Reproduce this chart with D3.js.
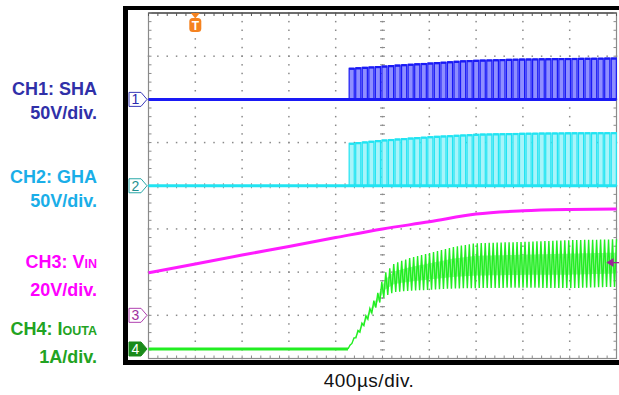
<!DOCTYPE html>
<html><head><meta charset="utf-8">
<script src="https://cdn.jsdelivr.net/npm/d3@7"></script>
<style>html,body{margin:0;padding:0;background:#fff;} svg{display:block;font-family:"Liberation Sans",Arial,sans-serif;}</style>
</head><body><svg id="c" width="619" height="395"></svg>
<script>
// ---------------- DATA ----------------
// time axis in µs (trigger at t = 0), 400 µs/div, 10 x 8 divisions
const timeDomain = [-400, 3600];
const timePerDiv = 400;
const divisionsX = 10;
const divisionsY = 8;
const timebaseLabel = "400µs/div.";

const channelNames = ["CH1: SHA", "CH2: GHA", "CH3: V", "CH4: I"];
const channelSubs = ["", "", "IN", "OUTA"];
const channelScaleLabels = ["50V/div.", "50V/div.", "20V/div.", "1A/div."];
const channelUnitsPerDiv = [50, 50, 20, 1];
const channelOffsetsDiv = [6, 4, 1, 0.22];
const channelIds = ["1", "2", "3", "4"];

const switchStart = 1315;   // µs, start of switching
const switchPeriod = 56;    // µs (apparent, aliased)
const switchDuty = 0.78;
const ripplePeriod = 34;    // µs (apparent current ripple)

// CH1 SHA: high level envelope (V)
const shaTime = [1315, 1600, 1750, 2050, 2300, 2700, 3100, 3600];
const shaHigh = [36, 38.5, 40, 42.5, 44.8, 46.4, 47.2, 47.8];
// CH2 GHA: high level envelope (V)
const ghaTime = [1315, 1600, 2000, 2400, 2800, 3200, 3600];
const ghaHigh = [49.1, 53.0, 56.8, 59.6, 60.7, 61.2, 61.4];
// CH3 VIN (V)
const vinTime = [-400, 0, 400, 800, 1200, 1600, 2000, 2400, 2800, 3200, 3600];
const vinVolts = [19.7, 23.8, 27.9, 31.9, 36.0, 40.0, 43.3, 46.9, 48.4, 49.0, 49.2];
// CH4 IOUTA (A): ripple band
const ioutTime = [-400, 1305, 1400, 1500, 1560, 1620, 1700, 1850, 2000, 2200, 2400, 2800, 3200, 3600];
const ioutLow  = [0, 0, 0.36, 0.80, 1.02, 1.22, 1.32, 1.35, 1.37, 1.40, 1.41, 1.42, 1.41, 1.44];
const ioutHigh = [0, 0, 0.48, 0.98, 1.30, 1.75, 1.98, 2.12, 2.22, 2.36, 2.45, 2.48, 2.52, 2.54];
const triggerLevelA = 2.0;

// ---------------- DRAWING ----------------
const svg = d3.select("#c");
const plot = {l: 148.5, r: 616.5, t: 13, b: 358.5};
const x = d3.scaleLinear().domain(timeDomain).range([plot.l, plot.r]);
const y = d3.scaleLinear().domain([0, divisionsY]).range([plot.b, plot.t]);
const yv = (ch, v) => y(channelOffsetsDiv[ch] + v / channelUnitsPerDiv[ch]);

// black scope frame
svg.append("rect").attr("x", 123).attr("y", 6).attr("width", 5).attr("height", 359).attr("fill", "#000");
svg.append("rect").attr("x", 123).attr("y", 6).attr("width", 496).attr("height", 4).attr("fill", "#000");
svg.append("rect").attr("x", 123).attr("y", 360).attr("width", 496).attr("height", 5).attr("fill", "#000");

// graticule
const grid = svg.append("g");
const gridColor = "#8a8a8a";
const majorT = d3.range(timeDomain[0], timeDomain[1] + 1, timePerDiv);
const minorT = d3.range(timeDomain[0], timeDomain[1] + 1, timePerDiv / 5);
const majorD = d3.range(0, divisionsY + 0.001, 1);
const minorD = d3.range(0, divisionsY + 0.001, 0.2);
majorT.slice(1, -1).forEach(t => {
  grid.selectAll(null).data(minorD).join("rect")
    .attr("x", x(t) - 0.75).attr("y", d => y(d) - 0.75).attr("width", 1.5).attr("height", 1.5).attr("fill", gridColor);
});
majorD.slice(1, -1).forEach(d => {
  grid.selectAll(null).data(minorT).join("rect")
    .attr("x", t => x(t) - 0.75).attr("y", y(d) - 0.75).attr("width", 1.5).attr("height", 1.5).attr("fill", gridColor);
});
const cT = (timeDomain[0] + timeDomain[1]) / 2, cD = divisionsY / 2;
grid.selectAll(null).data(minorD).join("line")
  .attr("x1", x(cT) - 2.5).attr("x2", x(cT) + 2.5).attr("y1", d => y(d)).attr("y2", d => y(d))
  .attr("stroke", gridColor).attr("stroke-width", 1);
grid.selectAll(null).data(minorT).join("line")
  .attr("y1", y(cD) - 2.5).attr("y2", y(cD) + 2.5).attr("x1", t => x(t)).attr("x2", t => x(t))
  .attr("stroke", gridColor).attr("stroke-width", 1);
grid.append("rect").attr("x", plot.l).attr("y", plot.t).attr("width", plot.r - plot.l).attr("height", plot.b - plot.t)
  .attr("fill", "none").attr("stroke", gridColor).attr("stroke-width", 1.2);
grid.append("line").attr("x1", plot.l).attr("x2", plot.r).attr("y1", plot.t).attr("y2", plot.t)
  .attr("stroke", "#555").attr("stroke-width", 1.5);
grid.selectAll(null).data(minorT).join("line")
  .attr("x1", t => x(t)).attr("x2", t => x(t)).attr("y1", plot.t).attr("y2", plot.t + 3)
  .attr("stroke", "#555").attr("stroke-width", 1);
grid.selectAll(null).data(minorT).join("line")
  .attr("x1", t => x(t)).attr("x2", t => x(t)).attr("y1", plot.b).attr("y2", plot.b - 3)
  .attr("stroke", gridColor).attr("stroke-width", 1);
grid.selectAll(null).data(minorD).join("line")
  .attr("x1", plot.l).attr("x2", plot.l + 3).attr("y1", d => y(d)).attr("y2", d => y(d))
  .attr("stroke", gridColor).attr("stroke-width", 1);
grid.selectAll(null).data(minorD).join("line")
  .attr("x1", plot.r).attr("x2", plot.r - 3).attr("y1", d => y(d)).attr("y2", d => y(d))
  .attr("stroke", gridColor).attr("stroke-width", 1);

const traces = svg.append("g");
const line = d3.line().x(d => x(d[0])).y(d => d[1]);

// switching nodes (CH1 and CH2)
function drawSwitching(times, highs, ch, lineColor, fillColor) {
  const env = d3.scaleLinear().domain(times).range(highs).clamp(true);
  const base = yv(ch, 0);
  const end = timeDomain[1];
  const starts = d3.range(switchStart, end - 2, switchPeriod);
  const fall = t => Math.min(t + switchDuty * switchPeriod, end);
  const g = traces.append("g");
  g.selectAll(null).data(starts).join("rect")
    .attr("x", t => x(t))
    .attr("width", t => x(fall(t)) - x(t))
    .attr("y", t => yv(ch, env(t)))
    .attr("height", t => base - yv(ch, env(t)))
    .attr("fill", fillColor);
  const pts = [[timeDomain[0], base]];
  starts.forEach(t => {
    const h = yv(ch, env(t));
    pts.push([t, base], [t, h], [fall(t), h], [fall(t), base]);
  });
  pts.push([end, base]);
  g.append("path").attr("d", line(pts)).attr("fill", "none").attr("stroke", lineColor).attr("stroke-width", 1.2);
  g.append("line").attr("x1", x(timeDomain[0])).attr("x2", x(end)).attr("y1", base).attr("y2", base)
    .attr("stroke", lineColor).attr("stroke-width", 3);
  g.selectAll(null).data(starts).join("line")
    .attr("x1", t => x(t)).attr("x2", t => x(fall(t)))
    .attr("y1", t => yv(ch, env(t)) + 0.5).attr("y2", t => yv(ch, env(t)) + 0.5)
    .attr("stroke", lineColor).attr("stroke-width", 2.2);
}
drawSwitching(shaTime, shaHigh, 0, "#1a1af5", "#8e8eff");
drawSwitching(ghaTime, ghaHigh, 1, "#22e4f2", "#a8f4fa");

// CH3 VIN
traces.append("path")
  .attr("d", d3.line().x((d, i) => x(vinTime[i])).y(d => yv(2, d)).curve(d3.curveMonotoneX)(vinVolts))
  .attr("fill", "none").attr("stroke", "#ff1cff").attr("stroke-width", 3);

// CH4 IOUTA
(function () {
  const lo = d3.scaleLinear().domain(ioutTime).range(ioutLow).clamp(true);
  const hi = d3.scaleLinear().domain(ioutTime).range(ioutHigh).clamp(true);
  const tStart = ioutTime[1];
  const g = traces.append("g");
  g.append("line").attr("x1", x(timeDomain[0])).attr("x2", x(tStart)).attr("y1", yv(3, 0)).attr("y2", yv(3, 0))
    .attr("stroke", "#22ee22").attr("stroke-width", 3);
  const bandT = d3.range(tStart, timeDomain[1] + 1, 10);
  g.append("path")
    .attr("d", d3.area().x(t => x(t))
      .y0(t => yv(3, lo(t) + 0.28 * (hi(t) - lo(t))))
      .y1(t => yv(3, hi(t) - 0.28 * (hi(t) - lo(t))))(bandT))
    .attr("fill", "#9cf49c");
  const pts = [];
  d3.range(tStart, timeDomain[1], ripplePeriod).forEach(t => {
    pts.push([t, yv(3, lo(t))]);
    const t2 = Math.min(t + ripplePeriod / 2, timeDomain[1]);
    pts.push([t2, yv(3, hi(t2))]);
  });
  g.append("path").attr("d", line(pts)).attr("fill", "none").attr("stroke", "#22ee22").attr("stroke-width", 1.4);
})();

// trigger position marker (T)
const tg = svg.append("g").attr("transform", `translate(${x(0)},0)`);
tg.append("path").attr("d", "M-4.5,13 L4.5,13 L0,18.5 Z").attr("fill", "#f5821f");
tg.append("rect").attr("x", -6).attr("y", 18).attr("width", 12).attr("height", 14).attr("rx", 3.5).attr("fill", "#f5821f");
tg.append("text").attr("x", 0).attr("y", 29.5).attr("text-anchor", "middle").attr("fill", "#fff")
  .attr("font-size", 12).attr("font-weight", "bold").text("T");

// trigger level marker (right, on CH4)
const ty = yv(3, triggerLevelA);
svg.append("path").attr("d", `M606.5,${ty} L613.5,${ty - 4.5} L613.5,${ty + 4.5} Z`).attr("fill", "#a0209a");
svg.append("line").attr("x1", 613).attr("x2", 619).attr("y1", ty).attr("y2", ty).attr("stroke", "#a0209a").attr("stroke-width", 1.3);

// channel ground markers
const markerStroke = ["#3a3ab8", "#2aa8a8", "#b040b0", "#1a8a1a"];
const markerFill = ["#fff", "#fff", "#fff", "#1a8a1a"];
const markerText = ["#2a2ab0", "#1f9090", "#a030a0", "#fff"];
const mk = svg.append("g");
channelIds.forEach((id, i) => {
  const cy = yv(i, 0);
  mk.append("path").attr("d", `M129,${cy - 7} H141 L147,${cy} L141,${cy + 7} H129 Z`)
    .attr("fill", markerFill[i]).attr("stroke", markerStroke[i]).attr("stroke-width", 1);
  mk.append("text").attr("x", 135.5).attr("y", cy + 5).attr("text-anchor", "middle")
    .attr("font-size", 14).attr("fill", markerText[i]).text(id);
});

// channel labels
const labelColors = ["#3030a8", "#1aaee8", "#ff00ff", "#22a322"];
const labelBaselines = [[95, 119], [183, 207], [268, 296], [335, 363]];
const lab = svg.append("g").attr("font-weight", "bold").attr("font-size", 18).attr("text-anchor", "end");
channelNames.forEach((n, i) => {
  const t1 = lab.append("text").attr("x", 97).attr("y", labelBaselines[i][0]).attr("fill", labelColors[i]);
  t1.append("tspan").text(n);
  if (channelSubs[i]) t1.append("tspan").attr("font-size", 12.5).text(channelSubs[i]);
  lab.append("text").attr("x", 97).attr("y", labelBaselines[i][1]).attr("fill", labelColors[i]).text(channelScaleLabels[i]);
});

// timebase label
svg.append("text").attr("x", 369).attr("y", 387).attr("text-anchor", "middle")
  .attr("font-size", 19).attr("letter-spacing", 0.5).attr("fill", "#111").text(timebaseLabel);
</script></body></html>
